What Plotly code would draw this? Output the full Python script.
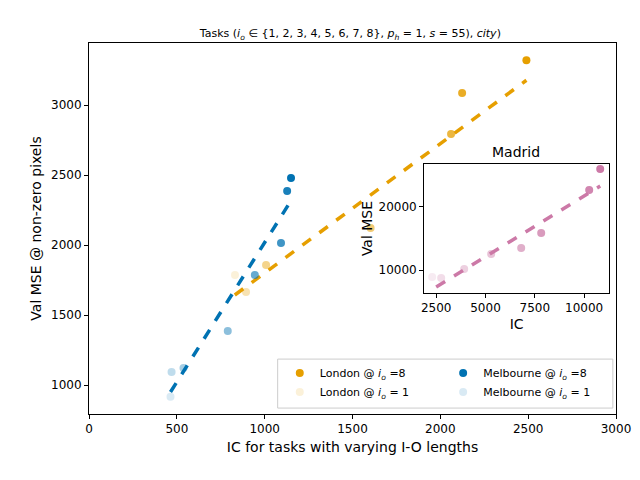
import plotly.graph_objects as go

# London
lon_ic = [831, 894, 1008, 1603, 2061, 2124, 2490]
lon_mse = [1786, 1664, 1857, 2121, 2793, 3085, 3320]
lon_alpha = [0.15, 0.3, 0.45, 0.55, 0.75, 0.85, 1.0]
lon_fit_x = [830, 2490]
lon_fit_y = [1643, 3177]

# Melbourne
mel_ic = [464, 470, 538, 790, 944, 1093, 1128, 1150]
mel_mse = [916, 1093, 1121, 1386, 1786, 2014, 2386, 2479]
mel_alpha = [0.15, 0.25, 0.35, 0.45, 0.6, 0.75, 0.9, 1.0]
mel_fit_x = [464, 1145]
mel_fit_y = [950, 2307]

# Madrid (inset)
mad_ic = [2297, 2753, 3919, 5288, 6809, 7823, 10256, 10814]
mad_mse = [8890, 8730, 10160, 12540, 13490, 15870, 22700, 26030]
mad_alpha = [0.15, 0.25, 0.35, 0.45, 0.6, 0.75, 0.9, 1.0]
mad_fit_x = [2500, 10814]
mad_fit_y = [7300, 23330]

ORANGE = (230, 159, 0)
BLUE = (0, 114, 178)
PINK = (204, 121, 167)


def rgba(c, a):
    return "rgba(%d,%d,%d,%.2f)" % (c[0], c[1], c[2], a)


fig = go.Figure()

fig.add_trace(go.Scatter(x=lon_fit_x, y=lon_fit_y, mode="lines", showlegend=False,
                         line=dict(color=rgba(ORANGE, 1), width=3.5, dash="dash")))
fig.add_trace(go.Scatter(x=mel_fit_x, y=mel_fit_y, mode="lines", showlegend=False,
                         line=dict(color=rgba(BLUE, 1), width=3.5, dash="dash")))
fig.add_trace(go.Scatter(x=lon_ic, y=lon_mse, mode="markers", showlegend=False,
                         marker=dict(size=8, color=[rgba(ORANGE, a) for a in lon_alpha])))
fig.add_trace(go.Scatter(x=mel_ic, y=mel_mse, mode="markers", showlegend=False,
                         marker=dict(size=8, color=[rgba(BLUE, a) for a in mel_alpha])))

# legend entries: two columns as two legends
for name, col, lg in [("London @ <i>i<sub>o</sub></i> =8", rgba(ORANGE, 1), "legend"),
                      ("London @ <i>i<sub>o</sub></i> = 1", rgba(ORANGE, 0.15), "legend"),
                      ("Melbourne @ <i>i<sub>o</sub></i> =8", rgba(BLUE, 1), "legend2"),
                      ("Melbourne @ <i>i<sub>o</sub></i> = 1", rgba(BLUE, 0.15), "legend2")]:
    fig.add_trace(go.Scatter(x=[None], y=[None], mode="markers", name=name, legend=lg,
                             marker=dict(size=8, color=col)))

# inset
fig.add_trace(go.Scatter(x=mad_fit_x, y=mad_fit_y, mode="lines", showlegend=False,
                         xaxis="x2", yaxis="y2",
                         line=dict(color=rgba(PINK, 1), width=3.5, dash="dash")))
fig.add_trace(go.Scatter(x=mad_ic, y=mad_mse, mode="markers", showlegend=False,
                         xaxis="x2", yaxis="y2",
                         marker=dict(size=8, color=[rgba(PINK, a) for a in mad_alpha])))

ax = dict(showgrid=False, zeroline=False, showline=True, linecolor="black", mirror=True,
          ticks="outside", tickcolor="black", ticklen=4, automargin=False)

leg = dict(x=0.362, xanchor="left", y=0.02, yanchor="bottom", font=dict(size=11),
           bgcolor="rgba(0,0,0,0)", borderwidth=0, tracegroupgap=2)

fig.update_layout(
    width=640, height=480, margin=dict(l=81, r=32, t=35, b=74),
    plot_bgcolor="white", paper_bgcolor="white",
    font=dict(family="DejaVu Sans", size=12, color="black"),
    title=dict(text="Tasks (<i>i<sub>o</sub></i> ∈ {1, 2, 3, 4, 5, 6, 7, 8}, <i>p<sub>h</sub></i> = 1, <i>s</i> = 55), <i>city</i>)",
               x=0.535, xanchor="center", y=0.955, font=dict(size=11)),
    xaxis=dict(ax, domain=[0, 1], range=[0, 3000], dtick=500,
               title=dict(text="IC for tasks with varying I-O lengths", standoff=6)),
    yaxis=dict(ax, domain=[0, 1], range=[793, 3443], tickvals=[1000, 1500, 2000, 2500, 3000],
               title=dict(text="Val MSE @ non-zero pixels", standoff=6)),
    xaxis2=dict(ax, domain=[0.636, 0.987], anchor="y2", range=[1892, 11267],
                tickvals=[2500, 5000, 7500, 10000], tickformat="d",
                title=dict(text="IC", standoff=4)),
    yaxis2=dict(ax, domain=[0.326, 0.674], anchor="x2", range=[6349, 26825],
                tickvals=[10000, 20000], tickformat="d", title=dict(text="Val MSE", standoff=2)),
    legend=leg,
    legend2=dict(leg, x=0.672),
    shapes=[dict(type="rect", xref="paper", yref="paper", x0=0.358, x1=0.994, y0=0.016, y1=0.148,
                 line=dict(color="#cccccc", width=1), fillcolor="rgba(255,255,255,0.8)", layer="above")],
    annotations=[dict(text="Madrid", xref="paper", yref="paper", x=0.81, y=0.68,
                      xanchor="center", yanchor="bottom", showarrow=False, font=dict(size=14))],
)

fig.write_html("out.html")
